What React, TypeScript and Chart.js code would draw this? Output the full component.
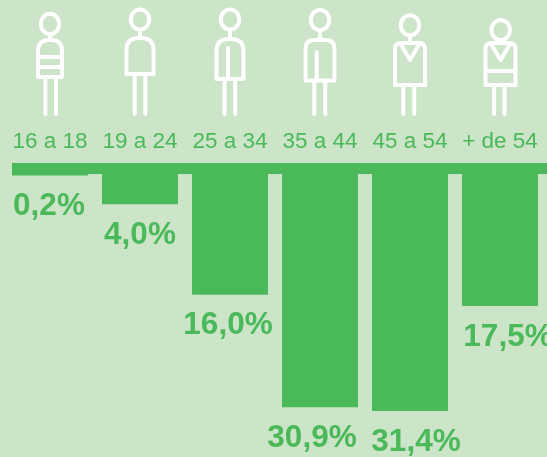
import React, { useEffect, useRef } from "react";
import { Chart, registerables } from "chart.js";

Chart.register(...registerables);

const categories = ["16 a 18", "19 a 24", "25 a 34", "35 a 44", "45 a 54", "+ de 54"];
const shares = [0.2, 4.0, 16.0, 30.9, 31.4, 17.5];
const shareLabels = ["0,2%", "4,0%", "16,0%", "30,9%", "31,4%", "17,5%"];
const labelShiftX = [-1, 0, -2, -8, 6, 8];

const GREEN = "#4ab959";
const BACKGROUND = "#cce4c7";

type Figure = {
  head: [number, number, number, number];
  torso: [number, number, number, number];
  radius: number;
  legs: [number, number];
  lines: number[][][];
};

const figures: Figure[] = [
  { head: [0, 24, 9.2, 10.2], torso: [-12, 40, 12, 77], radius: 11, legs: [-4.6, 6], lines: [[[-12, 57], [12, 57]], [[-12, 67], [12, 67]]] },
  { head: [0, 19.5, 9.2, 10], torso: [-13.5, 38, 13.5, 74], radius: 12, legs: [-5.3, 5.3], lines: [] },
  { head: [0, 19.5, 9.2, 10], torso: [-13.5, 39, 13.5, 79], radius: 12, legs: [-5.5, 5.2], lines: [[[-2, 48], [-2, 79]]] },
  { head: [0, 20, 9.2, 10], torso: [-14.5, 40, 14.5, 80.5], radius: 9, legs: [-5.7, 5.3], lines: [[[-3.3, 52], [-3.3, 80]]] },
  { head: [0, 25.3, 9.2, 10], torso: [-15, 43, 15, 85], radius: 6, legs: [-6.7, 4.3], lines: [[[-10, 43], [0, 60], [10, 43]]] },
  { head: [0.7, 30, 9.2, 10], torso: [-14.5, 43, 15.5, 85], radius: 6, legs: [-6, 4.5], lines: [[[-9, 44], [0.7, 60], [10, 44]], [[-14.5, 71], [15.5, 71]]] },
];

const decorations = {
  id: "decorations",
  beforeDatasetsDraw(chart: any) {
    const { ctx, chartArea, scales } = chart;
    ctx.save();
    ctx.fillStyle = GREEN;
    ctx.fillRect(12, chartArea.top - 11, 535, 11);
    ctx.strokeStyle = "#ffffff";
    ctx.lineWidth = 4;
    ctx.lineCap = "round";
    ctx.lineJoin = "round";
    figures.forEach((f, i) => {
      const cx = scales.x.getPixelForValue(i);
      const [hx, hy, rx, ry] = f.head;
      const [x0, y0, x1, y1] = f.torso;
      ctx.beginPath();
      ctx.ellipse(cx + hx, hy, rx, ry, 0, 0, Math.PI * 2);
      ctx.moveTo(cx + hx, hy + ry);
      ctx.lineTo(cx + hx, y0);
      ctx.stroke();
      ctx.beginPath();
      ctx.moveTo(cx + x0, y1);
      ctx.lineTo(cx + x0, y0 + f.radius);
      ctx.quadraticCurveTo(cx + x0, y0, cx + x0 + f.radius, y0);
      ctx.lineTo(cx + x1 - f.radius, y0);
      ctx.quadraticCurveTo(cx + x1, y0, cx + x1, y0 + f.radius);
      ctx.lineTo(cx + x1, y1);
      ctx.closePath();
      f.lines.forEach((line) => {
        line.forEach(([x, y], k) => (k === 0 ? ctx.moveTo(cx + x, y) : ctx.lineTo(cx + x, y)));
      });
      f.legs.forEach((x) => {
        ctx.moveTo(cx + x, y1);
        ctx.lineTo(cx + x, 114);
      });
      ctx.stroke();
    });
    ctx.restore();
  },
  afterDatasetsDraw(chart: any) {
    const { ctx } = chart;
    const bars = chart.getDatasetMeta(0).data;
    ctx.save();
    ctx.fillStyle = GREEN;
    ctx.font = "bold 31.5px 'Liberation Sans'";
    ctx.textAlign = "center";
    ctx.textBaseline = "middle";
    bars.forEach((bar: any, i: number) => {
      ctx.fillText(shareLabels[i], bar.x + labelShiftX[i], bar.y + 31);
    });
    ctx.restore();
  },
};

export default function App() {
  const ref = useRef<HTMLCanvasElement>(null);
  useEffect(() => {
    const chart = new Chart(ref.current!, {
      type: "bar",
      data: {
        labels: categories,
        datasets: [
          {
            data: shares,
            backgroundColor: GREEN,
            borderWidth: 0,
            barPercentage: 0.844,
            categoryPercentage: 1,
          },
        ],
      },
      options: {
        animation: false,
        responsive: false,
        layout: { padding: { left: 5, right: 2, top: 0, bottom: 0 } },
        plugins: { legend: { display: false }, tooltip: { enabled: false } },
        scales: {
          x: {
            position: "top",
            offset: true,
            grid: { display: false, drawTicks: false },
            border: { display: false },
            ticks: {
              color: GREEN,
              font: { family: "'Liberation Sans'", size: 22.5 },
              padding: 19,
              maxRotation: 0,
              autoSkip: false,
            },
            afterFit: (scale: any) => {
              scale.height = 174;
              scale.paddingLeft = 0;
              scale.paddingRight = 0;
            },
          },
          y: { display: false, reverse: true, min: 0, max: 37.5 },
        },
      },
      plugins: [decorations],
    });
    return () => chart.destroy();
  }, []);
  return (
    <div style={{ position: "fixed", inset: 0, background: BACKGROUND, overflow: "hidden" }}>
      <canvas ref={ref} width={547} height={457} style={{ display: "block" }} />
    </div>
  );
}
